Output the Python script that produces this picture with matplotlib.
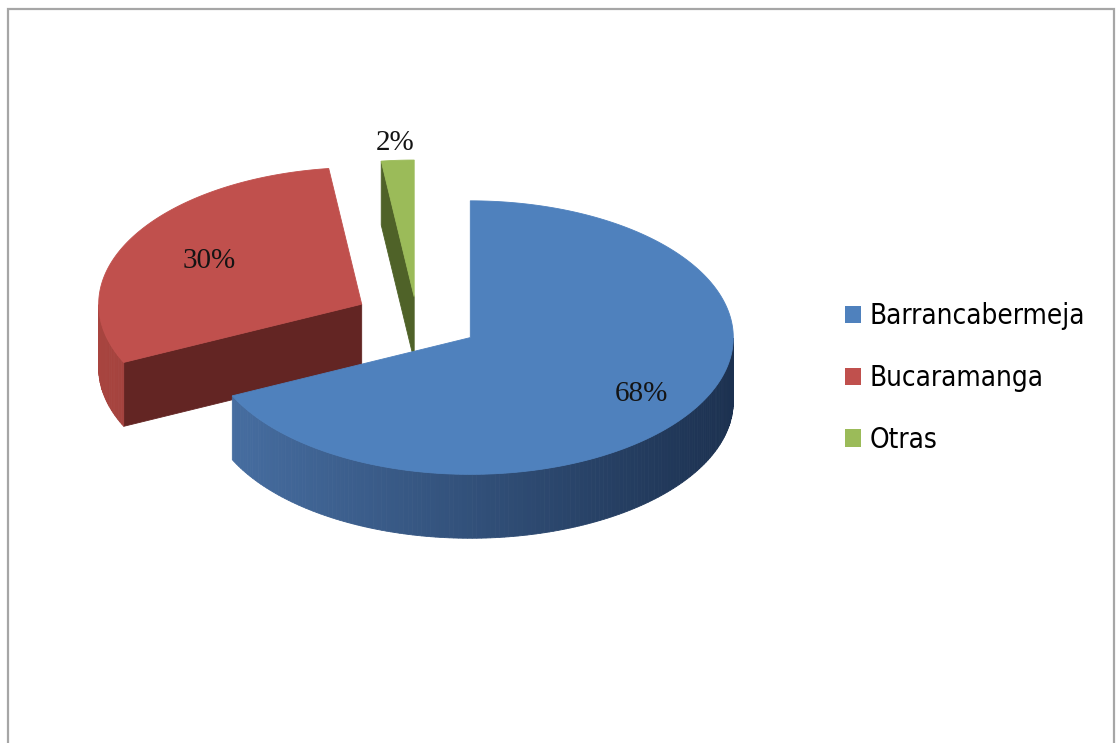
import numpy as np
import matplotlib.pyplot as plt
from matplotlib.patches import Polygon, Rectangle
from matplotlib.colors import to_rgb

# data
labels = ['Barrancabermeja', 'Bucaramanga', 'Otras']
values = [68, 30, 2]
pct_labels = ['68%', '30%', '2%']

# colours: top face, outer wall (left -> right shading), radial face
top_colors = ['#4f81bd', '#c0504d', '#9bbb59']
wall_left = ['#4870a4', '#a8443f', '#8aa84f']
wall_right = ['#1c3150', '#5e211f', '#4f6228']
side_colors = ['#2f4d74', '#632523', '#4f6228']

tilt = 0.52                  # minor / major axis of the ellipse
depth = 0.243                # thickness of the pie
explode = [0.24, 0.24, 0.17]  # how far each slice is pulled out
label_r = [0.77, 0.66, 1.13]
start = 90.0                 # first slice starts at 12 o'clock, going clockwise

W, H = 1116, 743
scale = 263.0              # pixels per pie radius
cx_px, cy_px = 417, 320    # pie centre in pixels

fig = plt.figure(figsize=(W / 100, H / 100), dpi=100)
ax = fig.add_axes([0, 0, 1, 1])
ax.set_xlim(-cx_px / scale, (W - cx_px) / scale)
ax.set_ylim(-(H - cy_px) / scale, cy_px / scale)
ax.axis('off')


def proj(x, y, z=0.0):
    # flat pie coordinates -> screen
    return x, tilt * y + z


def mix(c1, c2, t):
    a, b = np.array(to_rgb(c1)), np.array(to_rgb(c2))
    return tuple(a + (b - a) * t)


# slice angles (counter-clockwise intervals)
total = float(sum(values))
slices = []
ang = start
for i, v in enumerate(values):
    sweep = 360.0 * v / total
    t1 = ang
    t2 = ang - sweep
    ang = t2
    mid = np.radians((t1 + t2) / 2)
    ox, oy = explode[i] * np.cos(mid), explode[i] * np.sin(mid)
    slices.append((i, np.radians(t2), np.radians(t1), mid, ox, oy))

# back slices first
slices.sort(key=lambda s: -s[5])

for i, a2, a1, mid, ox, oy in slices:
    faces = []
    # outer wall, only the front facing part
    ts = np.linspace(a2, a1, max(int(np.degrees(a1 - a2)), 2) + 1)
    for ta, tb in zip(ts[:-1], ts[1:]):
        tm = (ta + tb) / 2
        if np.sin(tm) >= 0:
            continue
        pts = [proj(ox + np.cos(ta), oy + np.sin(ta)),
               proj(ox + np.cos(tb), oy + np.sin(tb)),
               proj(ox + np.cos(tb), oy + np.sin(tb), -depth),
               proj(ox + np.cos(ta), oy + np.sin(ta), -depth)]
        col = mix(wall_left[i], wall_right[i], (np.cos(tm) + 1) / 2)
        faces.append((np.sin(tm), pts, col))
    # radial faces
    for a, normal in ((a2, a2 - np.pi / 2), (a1, a1 + np.pi / 2)):
        if np.sin(normal) >= -1e-6:
            continue
        c0 = (ox, oy)
        c1 = (ox + np.cos(a), oy + np.sin(a))
        pts = [proj(*c0), proj(*c1), proj(*c1, -depth), proj(*c0, -depth)]
        faces.append((0.5 * np.sin(a), pts, side_colors[i]))
    faces.sort(key=lambda f: -f[0])
    for _, pts, col in faces:
        ax.add_patch(Polygon(pts, closed=True, facecolor=col, edgecolor=col,
                             lw=0.6, antialiased=True))
    # top face
    arc = np.linspace(a2, a1, 200)
    top = [proj(ox, oy)] + [proj(ox + np.cos(t), oy + np.sin(t)) for t in arc]
    ax.add_patch(Polygon(top, closed=True, facecolor=top_colors[i],
                         edgecolor=top_colors[i], lw=0.6))
    lx, ly = proj(ox + label_r[i] * np.cos(mid), oy + label_r[i] * np.sin(mid))
    ax.text(lx, ly, pct_labels[i], ha='center', va='center', fontsize=21,
            family=['Liberation Serif', 'DejaVu Serif'], color='#141414')

# legend
handles = [Rectangle((0, 0), 1, 1, facecolor=c, edgecolor='none') for c in top_colors]
fig.legend(handles, labels, loc='upper left', bbox_to_anchor=(834 / W, 1 - 291 / H),
           frameon=False, handlelength=0.58, handleheight=0.58, handletextpad=0.3,
           labelspacing=1.22, borderaxespad=0,
           prop={'family': 'DejaVu Sans', 'stretch': 'condensed', 'size': 20})

# chart area border
fig.patches.append(Rectangle((8 / W, -0.01), (1114 - 8) / W, 1 - 9 / H + 0.01,
                             transform=fig.transFigure, fill=False,
                             edgecolor='#a6a6a6', lw=1.6))

plt.savefig('out.png', dpi=100)
